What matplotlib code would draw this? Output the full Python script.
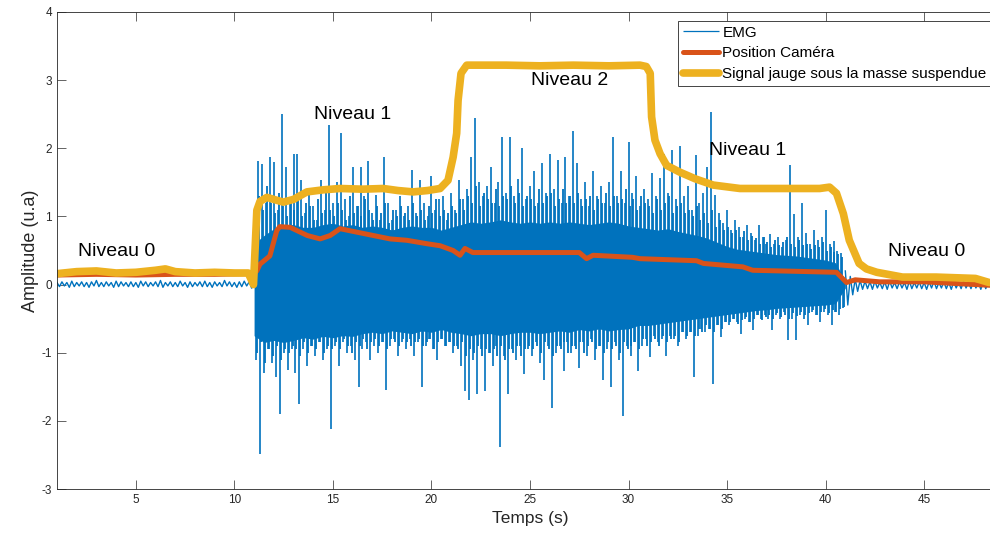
import numpy as np
import matplotlib
matplotlib.use('Agg')
import matplotlib.pyplot as plt

plt.rcParams['font.family'] = ['Liberation Sans', 'DejaVu Sans']
plt.rcParams['axes.unicode_minus'] = False

# EMG repos (avant / apres l'effort) : sommets et creux
emg_pre_t = np.linspace(1.0, 10.75, 40)
emg_pre_hi = [0.03, 0.04, 0.03, 0.05, 0.03, 0.04, 0.03, 0.04, 0.06, 0.03,
              0.04, 0.03, 0.05, 0.04, 0.03, 0.04, 0.03, 0.05, 0.04, 0.03,
              0.04, 0.06, 0.03, 0.04, 0.03, 0.05, 0.03, 0.04, 0.03, 0.04,
              0.05, 0.03, 0.04, 0.03, 0.06, 0.04, 0.03, 0.04, 0.05, 0.04]
emg_pre_lo = [-0.03, -0.02, -0.04, -0.03, -0.02, -0.03, -0.04, -0.02, -0.03, -0.03,
              -0.02, -0.04, -0.03, -0.02, -0.03, -0.03, -0.04, -0.02, -0.03, -0.02,
              -0.03, -0.04, -0.02, -0.03, -0.03, -0.02, -0.04, -0.03, -0.02, -0.03,
              -0.03, -0.04, -0.02, -0.03, -0.02, -0.03, -0.04, -0.03, -0.02, -0.05]

emg_post_t = np.linspace(41.0, 48.25, 30)
emg_post_hi = [0.20, 0.12, 0.08, 0.06, 0.05, 0.04, 0.05, 0.03, 0.04, 0.05,
               0.03, 0.04, 0.03, 0.05, 0.03, 0.04, 0.03, 0.04, 0.05, 0.03,
               0.04, 0.03, 0.04, 0.03, 0.05, 0.03, 0.04, 0.03, 0.04, 0.03]
emg_post_lo = [-0.30, -0.15, -0.10, -0.07, -0.06, -0.07, -0.05, -0.06, -0.07, -0.05,
               -0.06, -0.05, -0.07, -0.06, -0.05, -0.06, -0.07, -0.05, -0.06, -0.05,
               -0.06, -0.07, -0.05, -0.06, -0.05, -0.06, -0.05, -0.07, -0.06, -0.05]

# EMG pendant l'effort : enveloppe du coeur plein (pas de 0.5 s)
core_t = np.linspace(11.0, 41.0, 61)
core_hi = [0.6, 0.72, 0.82, 0.88, 0.88, 0.84, 0.84, 0.88, 0.9, 0.86,
           0.88, 0.84, 0.86, 0.84, 0.8, 0.84, 0.86, 0.84, 0.84, 0.8,
           0.84, 0.88, 0.92, 0.9, 0.92, 0.95, 0.92, 0.9, 0.92, 0.9,
           0.92, 0.9, 0.92, 0.9, 0.88, 0.9, 0.92, 0.9, 0.86, 0.84,
           0.82, 0.8, 0.82, 0.78, 0.75, 0.72, 0.68, 0.62, 0.56, 0.52,
           0.5, 0.48, 0.46, 0.44, 0.43, 0.42, 0.4, 0.38, 0.36, 0.32,
           0.05]
core_lo = [-0.75, -0.85, -0.82, -0.85, -0.82, -0.78, -0.8, -0.76, -0.78, -0.75,
           -0.76, -0.72, -0.7, -0.72, -0.68, -0.7, -0.72, -0.68, -0.7, -0.66,
           -0.7, -0.72, -0.75, -0.72, -0.72, -0.75, -0.72, -0.7, -0.7, -0.72,
           -0.7, -0.68, -0.7, -0.66, -0.68, -0.65, -0.68, -0.66, -0.65, -0.6,
           -0.6, -0.58, -0.56, -0.54, -0.52, -0.5, -0.48, -0.46, -0.44, -0.42,
           -0.4, -0.38, -0.37, -0.35, -0.34, -0.33, -0.32, -0.31, -0.3, -0.28,
           -0.05]

# EMG pendant l'effort : grands pics (pas de 0.2 s)
emg_t = np.linspace(11.0, 40.8, 150)
emg_hi = [1.05, 1.82, 1.77, 1.20, 1.87, 1.80, 1.10, 2.51, 1.72, 1.25,
          1.92, 1.92, 1.54, 1.05, 1.40, 1.15, 0.95, 1.54, 1.10, 2.34,
          1.20, 1.50, 2.22, 1.25, 1.00, 1.72, 1.15, 1.72, 1.30, 1.82,
          1.05, 1.32, 0.95, 1.87, 1.20, 0.95, 1.10, 1.30, 1.00, 1.15,
          1.68, 1.05, 1.54, 1.20, 1.00, 1.60, 1.10, 1.25, 1.30, 0.95,
          1.35, 1.10, 1.54, 1.25, 1.40, 1.87, 2.44, 1.50, 1.30, 1.45,
          1.72, 1.20, 1.50, 2.16, 1.35, 2.16, 1.30, 1.55, 2.00, 1.25,
          1.45, 1.66, 1.20, 1.78, 1.35, 1.92, 1.40, 1.83, 1.20, 1.87,
          1.30, 2.26, 1.78, 1.25, 1.50, 1.15, 1.66, 1.30, 1.45, 1.20,
          1.50, 2.16, 1.30, 1.66, 1.20, 2.09, 1.35, 1.60, 1.15, 1.40,
          1.25, 1.63, 1.30, 1.56, 1.92, 1.35, 1.97, 1.25, 2.04, 1.30,
          1.45, 1.10, 1.90, 1.20, 1.35, 1.72, 2.53, 1.32, 1.05, 0.90,
          1.10, 0.80, 0.95, 0.84, 0.70, 0.88, 0.75, 0.65, 0.88, 0.70,
          0.60, 0.74, 0.60, 0.70, 0.55, 0.65, 1.75, 1.03, 0.70, 1.19,
          0.75, 0.60, 0.80, 0.65, 0.70, 1.09, 0.60, 0.64, 0.50, 0.47]
emg_lo = [-1.10, -2.49, -1.30, -0.95, -1.15, -1.35, -1.90, -1.00, -1.25, -0.95,
          -1.30, -1.75, -0.95, -1.20, -0.90, -1.05, -0.85, -1.10, -0.95, -2.12,
          -0.90, -1.20, -0.85, -1.00, -0.90, -1.10, -1.50, -0.95, -0.85, -1.10,
          -0.90, -1.00, -0.85, -1.54, -0.90, -0.80, -1.05, -0.85, -0.95, -0.80,
          -1.05, -0.85, -1.50, -0.90, -0.80, -0.95, -1.10, -0.80, -0.90, -0.85,
          -1.00, -0.90, -1.20, -1.56, -1.70, -1.10, -1.60, -0.95, -1.56, -1.00,
          -1.20, -0.90, -2.39, -1.05, -1.60, -0.95, -1.10, -0.90, -1.31, -0.95,
          -1.05, -0.85, -1.15, -1.40, -0.90, -1.81, -1.00, -0.90, -1.27, -0.85,
          -1.00, -0.90, -1.22, -0.85, -1.05, -0.80, -1.10, -0.90, -1.40, -0.95,
          -1.50, -0.85, -1.10, -1.93, -0.90, -1.05, -0.85, -1.27, -0.90, -0.80,
          -1.07, -0.75, -0.85, -0.80, -1.05, -0.75, -0.80, -0.90, -0.70, -0.80,
          -0.70, -1.36, -0.75, -0.65, -0.70, -0.65, -1.46, -0.60, -0.77, -0.55,
          -0.60, -0.50, -0.55, -0.72, -0.50, -0.55, -0.67, -0.45, -0.50, -0.45,
          -0.50, -0.67, -0.45, -0.50, -0.40, -0.82, -0.50, -0.82, -0.45, -0.50,
          -0.60, -0.40, -0.45, -0.55, -0.40, -0.45, -0.60, -0.40, -0.45, -0.35]

# EMG pendant l'effort : pics moyens (zone dense autour du coeur)
emg_mid_hi = [0.95, 1.30, 1.10, 1.45, 1.20, 1.05, 1.35, 1.15, 1.00, 1.25,
              1.10, 1.30, 1.00, 1.20, 1.15, 0.95, 1.25, 1.05, 1.35, 1.10,
              1.00, 1.20, 1.10, 0.95, 1.30, 1.05, 1.15, 1.00, 1.25, 1.10,
              0.95, 1.15, 1.05, 1.20, 0.90, 1.10, 1.00, 1.15, 1.05, 0.95,
              1.20, 1.00, 1.10, 0.95, 1.15, 1.05, 1.25, 1.00, 1.10, 1.05,
              1.15, 1.05, 1.25, 1.10, 1.30, 1.20, 1.45, 1.15, 1.35, 1.25,
              1.20, 1.40, 1.15, 1.30, 1.25, 1.45, 1.20, 1.35, 1.15, 1.30,
              1.25, 1.15, 1.40, 1.20, 1.30, 1.35, 1.15, 1.25, 1.40, 1.20,
              1.30, 1.20, 1.35, 1.15, 1.25, 1.30, 1.10, 1.25, 1.20, 1.35,
              1.15, 1.30, 1.20, 1.25, 1.40, 1.15, 1.25, 1.10, 1.30, 1.20,
              1.15, 1.05, 1.25, 1.10, 1.20, 1.30, 1.05, 1.15, 1.20, 1.05,
              1.10, 1.00, 1.15, 0.95, 1.05, 0.90, 1.10, 0.85, 0.95, 0.80,
              0.85, 0.75, 0.80, 0.70, 0.78, 0.65, 0.72, 0.68, 0.60, 0.70,
              0.62, 0.55, 0.66, 0.58, 0.63, 0.70, 0.60, 0.55, 0.65, 0.58,
              0.60, 0.52, 0.58, 0.55, 0.62, 0.50, 0.55, 0.48, 0.45, 0.40]
emg_mid_lo = [-1.00, -0.85, -1.15, -0.95, -1.05, -0.90, -1.10, -0.95, -1.00, -0.90,
              -0.95, -1.05, -0.85, -1.00, -0.90, -0.95, -0.85, -1.00, -0.90, -0.95,
              -0.85, -0.95, -0.80, -0.90, -1.00, -0.85, -0.90, -0.80, -0.95, -0.85,
              -0.80, -0.90, -0.85, -0.95, -0.80, -0.85, -0.90, -0.80, -0.85, -0.90,
              -0.85, -0.80, -0.90, -0.85, -0.80, -0.95, -0.85, -0.80, -0.90, -0.85,
              -0.90, -0.95, -0.85, -1.05, -0.95, -1.00, -0.90, -1.05, -0.95, -1.00,
              -0.95, -1.05, -0.90, -1.10, -0.95, -1.00, -0.90, -1.05, -0.95, -0.90,
              -0.95, -0.90, -1.00, -0.85, -0.95, -1.05, -0.90, -0.95, -0.85, -1.00,
              -0.90, -0.95, -0.85, -1.00, -0.90, -0.85, -0.95, -0.90, -1.00, -0.85,
              -0.95, -0.90, -1.00, -0.85, -0.95, -0.90, -0.85, -0.95, -0.80, -0.90,
              -0.85, -0.80, -0.90, -0.75, -0.85, -0.80, -0.75, -0.85, -0.70, -0.75,
              -0.70, -0.75, -0.65, -0.70, -0.60, -0.65, -0.70, -0.60, -0.65, -0.55,
              -0.55, -0.50, -0.58, -0.52, -0.48, -0.55, -0.50, -0.45, -0.52, -0.48,
              -0.45, -0.50, -0.42, -0.48, -0.45, -0.50, -0.42, -0.46, -0.40, -0.45,
              -0.42, -0.38, -0.44, -0.40, -0.36, -0.42, -0.38, -0.40, -0.36, -0.33]

# Position camera
cam_t = [1.0, 3.0, 5.0, 7.0, 9.0, 10.8, 11.14, 11.3, 11.8, 12.15,
         12.3, 12.83, 13.7, 14.35, 14.86, 15.36, 16.2, 17.05, 17.9, 18.75,
         19.76, 20.44, 21.1, 21.45, 21.7, 22.1, 27.5, 27.87, 28.2, 30.2,
         30.58, 33.45, 33.8, 35.8, 36.3, 40.55, 41.06, 41.5, 42.75, 45.0, 48.3]
cam_v = [0.14, 0.15, 0.14, 0.15, 0.15, 0.16, 0.2, 0.3, 0.42, 0.79,
         0.85, 0.84, 0.72, 0.67, 0.72, 0.82, 0.77, 0.72, 0.67, 0.65,
         0.6, 0.57, 0.5, 0.43, 0.53, 0.47, 0.47, 0.38, 0.43, 0.4,
         0.38, 0.35, 0.31, 0.26, 0.21, 0.18, 0.03, 0.07, 0.04, 0.04, -0.01]

# Signal jauge
jauge_t = [1.0, 2.0, 3.0, 4.0, 5.0, 6.0, 6.5, 7.0, 8.0, 9.0,
           10.0, 10.7, 10.97, 11.14, 11.3, 11.65, 12.0, 12.48, 13.0, 13.68,
           14.5, 15.36, 16.5, 17.55, 18.3, 19.07, 19.8, 20.44, 20.84, 21.1,
           21.28, 21.35, 21.5, 21.79, 23.8, 25.5, 27.2, 29.0, 30.58, 30.9,
           31.1, 31.17, 31.34, 31.6, 31.93, 32.6, 33.4, 34.3, 35.65, 38.0,
           39.7, 40.2, 40.55, 40.9, 41.2, 41.7, 42.07, 42.6, 43.9, 45.6,
           47.6, 48.3]
jauge_v = [0.16, 0.19, 0.20, 0.17, 0.18, 0.21, 0.23, 0.19, 0.17, 0.18,
           0.17, 0.17, 0.0, 1.09, 1.22, 1.28, 1.25, 1.21, 1.25, 1.36,
           1.39, 1.41, 1.4, 1.41, 1.38, 1.36, 1.38, 1.41, 1.53, 1.87,
           2.22, 2.7, 3.1, 3.22, 3.22, 3.21, 3.22, 3.21, 3.22, 3.2,
           3.1, 2.46, 2.12, 1.92, 1.75, 1.65, 1.55, 1.46, 1.41, 1.41,
           1.41, 1.43, 1.34, 1.04, 0.65, 0.31, 0.23, 0.18, 0.11, 0.11,
           0.09, 0.03]

niveau_labels = ['Niveau 0', 'Niveau 1', 'Niveau 2', 'Niveau 1', 'Niveau 0']
niveau_t = [4.0, 16.0, 27.0, 36.05, 45.1]
niveau_v = [0.49, 2.49, 3.0, 1.97, 0.49]

blue = '#0072BD'


def zigzag(t, hi, lo):
    # alterne sommets et creux pour le bruit de repos
    dt = t[1] - t[0]
    x = np.empty(2 * len(t))
    y = np.empty(2 * len(t))
    x[0::2] = t
    x[1::2] = t + dt / 2
    y[0::2] = hi
    y[1::2] = lo
    return x, y


fig = plt.figure(figsize=(9.9, 5.35), dpi=100)
ax = fig.add_axes([57 / 990, 46 / 535, 946 / 990, 477 / 535])

ax.vlines(emg_t, 0, emg_hi, color=blue, lw=1.2, label='EMG')
ax.vlines(emg_t + 0.1, emg_lo, 0, color=blue, lw=1.2)
ax.vlines(emg_t + 0.05, 0, emg_mid_hi, color=blue, lw=1.3)
ax.vlines(emg_t + 0.15, emg_mid_lo, 0, color=blue, lw=1.3)
ax.fill_between(core_t, core_lo, core_hi, color=blue, lw=0)
for t, hi, lo in [(emg_pre_t, emg_pre_hi, emg_pre_lo),
                  (emg_post_t, emg_post_hi, emg_post_lo)]:
    x, y = zigzag(t, hi, lo)
    ax.plot(x, y, color=blue, lw=1.0)

ax.plot(cam_t, cam_v, color='#D95319', lw=3.6, solid_joinstyle='round',
        solid_capstyle='round', label='Position Caméra')
ax.plot(jauge_t, jauge_v, color='#EDB120', lw=5.5, solid_joinstyle='round',
        solid_capstyle='round', label='Signal jauge sous la masse suspendue')

for name, t, v in zip(niveau_labels, niveau_t, niveau_v):
    ax.text(t, v, name, ha='center', va='center', fontsize=14)

ax.set_xlim(1, 49)
ax.set_ylim(-3, 4)
ax.set_xticks(range(5, 50, 5))
ax.set_yticks(range(-3, 5))
ax.tick_params(direction='in', length=6.5, width=0.5, top=True, right=True,
               labelsize=8.5, colors='#262626')
for s in ax.spines.values():
    s.set_linewidth(0.6)
    s.set_color('#262626')
ax.set_xlabel('Temps (s)', fontsize=12.5, color='#262626')
ax.set_ylabel('Amplitude (u.a)', fontsize=13, color='#262626', labelpad=2)

leg = ax.legend(loc='upper left', bbox_to_anchor=(678 / 990, 1 - 21 / 535),
                bbox_transform=fig.transFigure, fontsize=11, fancybox=False,
                edgecolor='#262626', framealpha=1, borderaxespad=0,
                borderpad=0.3, handlelength=2.4, handletextpad=0.2,
                labelspacing=0.45)
leg.get_frame().set_linewidth(0.6)
leg.legend_handles[0].set_linewidth(0.9)

fig.savefig('out.png', dpi=100)
